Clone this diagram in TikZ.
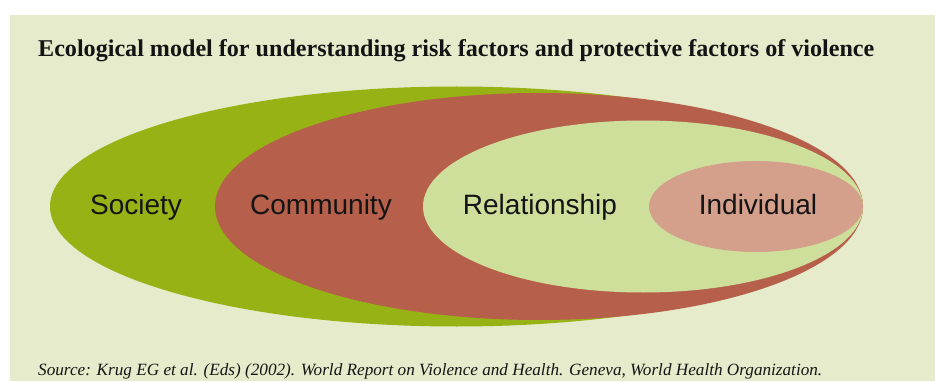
\documentclass[tikz,border=0pt]{standalone}
\usepackage{fontspec}
\setmainfont{Liberation Serif}
\setsansfont{Liberation Sans}
\usetikzlibrary{shapes.geometric}
\definecolor{panelbg}{HTML}{E6EBCB}
\definecolor{societygreen}{HTML}{97B214}
\definecolor{communityred}{HTML}{B6604B}
\definecolor{relationgreen}{HTML}{CEDF9B}
\definecolor{individualpink}{HTML}{D4A08C}
\definecolor{inkdark}{HTML}{141414}
\tikzset{
  ring/.style={ellipse, inner sep=0pt, draw=none},
  ringlabel/.style={anchor=base, font=\sffamily\fontsize{28}{30}\selectfont, text=inkdark, inner sep=0pt},
}
\begin{document}
\begin{tikzpicture}[x=1pt,y=1pt]
  % page and panel
  \useasboundingbox (0,0) rectangle (935,381);
  \fill[white] (0,0) rectangle (935,381);
  \fill[panelbg] (10,0) rectangle (935,366);

  % nested ellipses, all touching at the right
  \node[ring, fill=societygreen, minimum width=813pt, minimum height=240pt] (society) at (456.5,174.5) {};
  \node[ring, fill=communityred, minimum width=648pt, minimum height=227pt] (community) at (539,174.5) {};
  \node[ring, fill=relationgreen, minimum width=440pt, minimum height=172pt] (relationship) at (643,174.5) {};
  \node[ring, fill=individualpink, minimum width=214pt, minimum height=91pt] (individual) at (756,174.5) {};

  % level labels on a common baseline
  \node[ringlabel] (lsociety) at (136,167) {Society};
  \node[ringlabel] (lcommunity) at (321,167) {Community};
  \node[ringlabel] (lrelationship) at (540,167) {Relationship};
  \node[ringlabel] (lindividual) at (758,167) {Individual};

  % heading and source line
  \node[anchor=base west, inner sep=0pt, text=inkdark] (title) at (38,324)
    {\resizebox{836pt}{!}{\bfseries Ecological model for understanding risk factors and protective factors of violence}};
  \node[anchor=base west, inner sep=0pt, text=inkdark] (source) at (38,6)
    {\resizebox{784pt}{!}{\itshape Source: Krug EG et al. (Eds) (2002). World Report on Violence and Health. Geneva, World Health Organization.}};
\end{tikzpicture}
\end{document}
